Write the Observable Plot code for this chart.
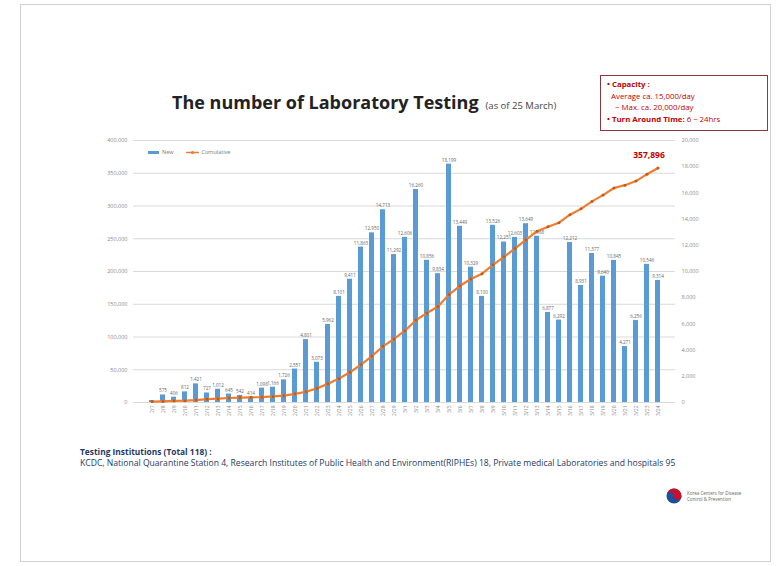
<!DOCTYPE html>
<html><head><meta charset="utf-8">
<script src="https://cdn.jsdelivr.net/npm/d3@7"></script>
<script src="https://cdn.jsdelivr.net/npm/@observablehq/plot@0.6"></script>
<style>
body{margin:0;background:#fff;font-family:"Open Sans",sans-serif;}
#page{position:relative;width:776px;height:566px;overflow:hidden;background:#fff;}
.layer{position:absolute;left:0;top:0;}
#frame{position:absolute;left:20px;top:4px;width:751px;height:558px;border:1px solid #d0d0d0;box-sizing:border-box;}
#title{position:absolute;left:172px;top:90px;font-size:18px;font-weight:700;color:#222;white-space:nowrap;}
#title span{font-size:9.5px;font-weight:400;color:#444;margin-left:7px;}
#box{position:absolute;left:600px;top:75px;width:168px;height:56px;border:1px solid #8a3a3a;box-sizing:border-box;padding:3px 6px;font-size:7.8px;line-height:11.5px;color:#c00000;white-space:nowrap;}
#legend{position:absolute;left:148px;top:148px;font-size:5.5px;color:#777;white-space:nowrap;display:flex;align-items:center;gap:3px;}
.sw{display:inline-block;width:11px;height:3px;}
#foot{position:absolute;left:80px;top:446px;font-size:8.6px;line-height:11px;color:#1f3864;white-space:nowrap;}
#foot b{font-size:8.4px;}
#logo{position:absolute;left:666px;top:488px;display:flex;align-items:center;gap:5px;font-size:4.5px;line-height:6px;color:#666;}
</style></head><body>
<div id="page">
<div id="frame"></div>
<div id="title">The number of Laboratory Testing<span>(as of 25 March)</span></div>
<div id="box"><b>• Capacity :</b><br>&nbsp;&nbsp;Average ca. 15,000/day<br>&nbsp;&nbsp;&nbsp;&nbsp;~ Max. ca. 20,000/day<br><b>• Turn Around Time:</b> 6 ~ 24hrs</div>
<div id="legend"><span class="sw" style="background:#5b9bd5"></span><span>New</span><span style="width:6px"></span><svg width="13" height="5"><line x1="0" y1="2.5" x2="13" y2="2.5" stroke="#ed7d31" stroke-width="1.5"/><circle cx="6.5" cy="2.5" r="1.6" fill="#ed7d31"/></svg><span>Cumulative</span></div>
<div id="foot"><b>Testing Institutions (Total 118) :</b><br>KCDC, National Quarantine Station 4, Research Institutes of Public Health and Environment(RIPHEs) 18, Private medical Laboratories and hospitals 95</div>
<div id="logo"><svg width="16" height="16" viewBox="0 0 16 16"><circle cx="8" cy="8" r="7.5" fill="#1f4e9c"/><path d="M0.5 8 A7.5 7.5 0 0 1 15.5 8 A3.75 3.75 0 0 1 8 8 A3.75 3.75 0 0 0 0.5 8Z" fill="#c8102e"/></svg><div>Korea Centers for Disease<br>Control &amp; Prevention</div></div>
</div>
<script>
const dates = ["2/7","2/8","2/9","2/10","2/11","2/12","2/13","2/14","2/15","2/16","2/17","2/18","2/19","2/20","2/21","2/22","2/23","2/24","2/25","2/26","2/27","2/28","2/29",
"3/1","3/2","3/3","3/4","3/5","3/6","3/7","3/8","3/9","3/10","3/11","3/12","3/13","3/14","3/15","3/16","3/17","3/18","3/19","3/20","3/21","3/22","3/23","3/24"];
const newTests = [150,575,406,812,1421,727,1012,645,542,414,1098,1166,1726,2551,4801,3073,5962,8101,9411,11863,12950,14713,11292,12606,16260,10856,9834,18199,13449,10329,8100,13526,12251,12603,13649,12688,6877,6292,12212,8931,11377,9640,10845,4271,6256,10546,9314];
const cumulative = [1352,1701,2340,2776,3629,5074,5797,6854,7519,7919,8171,9265,10411,13202,16400,21586,28615,36716,46127,57990,70940,85693,96985,109591,125851,136707,146541,164740,178189,188518,196618,210144,222395,234998,248647,261335,268212,274504,286716,295647,307024,316664,327509,331780,338036,348582,357896];
const leftTicks = [0,50000,100000,150000,200000,250000,300000,350000,400000];
const rightTicks = [0,2000,4000,6000,8000,10000,12000,14000,16000,18000,20000];
const gridTicks = [0,2500,5000,7500,10000,12500,15000,17500,20000];

const data = dates.map((d,i)=>({date:d, n:newTests[i], c:cumulative[i], i}));
const fmt = d3.format(",");
const common = {width:776, height:566, marginTop:140, marginBottom:164, marginLeft:133, marginRight:101,
  style:{background:"transparent", fontFamily:"Open Sans, sans-serif", overflow:"visible"}};
const xs = {type:"band", domain:dates, paddingInner:0.55, paddingOuter:0.55};

const barPlot = Plot.plot({...common,
  x:{...xs, axis:null, label:null},
  y:{domain:[0,20000], axis:null, label:null},
  marks:[
    Plot.gridY(gridTicks, {stroke:"#d9d9d9", strokeOpacity:1}),
    Plot.barY(data, {x:"date", y:"n", fill:"#5b9bd5"}),
    Plot.text(data.filter(d=>d.i>0), {x:"date", y:"n", text:d=>fmt(d.n), dy:-4, fontSize:4.6, fill:"#666"}),
    Plot.axisY(rightTicks, {anchor:"right", label:null, tickSize:0, tickPadding:6, fontSize:5.5, fill:"#888", tickFormat:fmt}),
    Plot.axisX({label:null, tickSize:0, tickPadding:3, tickRotate:-90, fontSize:5, fill:"#888"})
  ]});
barPlot.classList.add("layer");

const linePlot = Plot.plot({...common,
  x:{...xs, axis:null, label:null},
  y:{domain:[0,400000], axis:null, label:null},
  marks:[
    Plot.axisY(leftTicks, {anchor:"left", label:null, tickSize:0, tickPadding:6, fontSize:5.5, fill:"#888", tickFormat:fmt}),
    Plot.line(data, {x:"date", y:"c", stroke:"#ed7d31", strokeWidth:2.2}),
    Plot.dot(data, {x:"date", y:"c", r:1.5, fill:"#c85a14"}),
    Plot.text(data.slice(-1), {x:"date", y:"c", text:d=>fmt(d.c), dy:-13, dx:-9, fontSize:8.5, fontWeight:"bold", fill:"#c00000"})
  ]});
linePlot.classList.add("layer");

const page = document.getElementById("page");
page.appendChild(barPlot);
page.appendChild(linePlot);
</script>
</body></html>
